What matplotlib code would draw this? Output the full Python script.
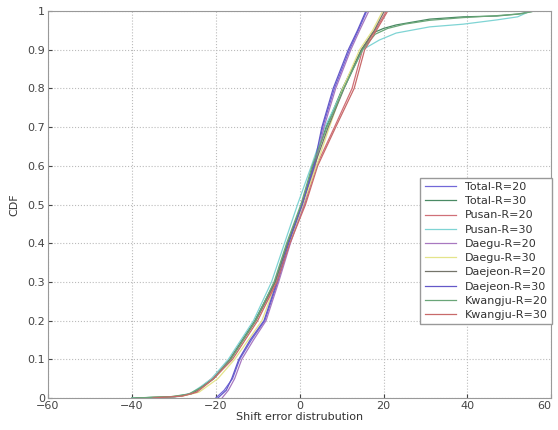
import matplotlib
matplotlib.use("Agg")
import matplotlib.pyplot as plt
import numpy as np

# CDF curves: (shift error, cdf)
total_r20_x = [-20, -18, -16, -14.3, -11.5, -8.3, -5.2, -2.4, 0.8, 3.6, 5.5, 8.3, 11.9, 14, 16]
total_r20_y = [0, 0.02, 0.05, 0.10, 0.15, 0.20, 0.30, 0.40, 0.50, 0.60, 0.70, 0.80, 0.90, 0.95, 1.0]
total_r30_x = [-40, -30, -26, -23, -20.7, -16.7, -10.7, -5.9, -2.9, 0.5, 3.2, 6.3, 10.2, 14.7, 17.4, 20, 23, 31, 39, 47, 52, 56]
total_r30_y = [0, 0.003, 0.01, 0.03, 0.05, 0.10, 0.20, 0.30, 0.40, 0.50, 0.60, 0.70, 0.80, 0.90, 0.943, 0.955, 0.964, 0.979, 0.985, 0.987, 0.992, 1.0]
pusan_r20_x = [-36, -28, -25, -21, -16.5, -10.4, -5.6, -2.5, 1.2, 4.0, 8.3, 12.5, 15, 18, 20.7]
pusan_r20_y = [0, 0.005, 0.015, 0.05, 0.10, 0.20, 0.30, 0.40, 0.50, 0.60, 0.70, 0.80, 0.90, 0.95, 1.0]
pusan_r30_x = [-40, -30, -26, -23.5, -21, -17, -11, -6.7, -3.6, -0.5, 2.8, 6.0, 10.5, 15, 19, 23, 31, 39, 47, 52, 55]
pusan_r30_y = [0, 0.003, 0.012, 0.03, 0.05, 0.10, 0.20, 0.30, 0.40, 0.50, 0.60, 0.70, 0.80, 0.90, 0.925, 0.943, 0.959, 0.966, 0.977, 0.985, 1.0]
daegu_r20_x = [-18.5, -17, -15.5, -13.8, -11, -8, -5, -2.2, 1.0, 3.7, 5.8, 8.6, 12.2, 14.3, 16.5]
daegu_r20_y = [0, 0.02, 0.05, 0.10, 0.15, 0.20, 0.30, 0.40, 0.50, 0.60, 0.70, 0.80, 0.90, 0.95, 1.0]
daegu_r30_x = [-38, -28, -24, -19.5, -15.5, -9, -5.5, -2.5, 0.8, 4.0, 7.1, 10.3, 14.3, 17.4, 19.8]
daegu_r30_y = [0, 0.005, 0.015, 0.05, 0.10, 0.20, 0.30, 0.40, 0.50, 0.60, 0.70, 0.80, 0.90, 0.95, 1.0]
daejeon_r20_x = [-39, -29, -25.5, -20.5, -16.5, -10.5, -5.8, -2.8, 0.6, 3.5, 6.8, 10.6, 14.8, 17.8, 20.2]
daejeon_r20_y = [0, 0.004, 0.012, 0.05, 0.10, 0.20, 0.30, 0.40, 0.50, 0.60, 0.70, 0.80, 0.90, 0.95, 1.0]
daejeon_r30_x = [-19.5, -17.5, -16.2, -14.5, -11.8, -8.5, -5.4, -2.6, 0.6, 3.4, 5.3, 8.0, 11.6, 13.8, 15.8]
daejeon_r30_y = [0, 0.02, 0.05, 0.10, 0.15, 0.20, 0.30, 0.40, 0.50, 0.60, 0.70, 0.80, 0.90, 0.95, 1.0]
kwangju_r20_x = [-40, -31, -26.5, -23, -20.5, -16.4, -10.5, -6.1, -3.1, 0.3, 3.0, 6.5, 10.5, 15, 18, 21, 25, 31, 39, 47, 53, 56]
kwangju_r20_y = [0, 0.003, 0.01, 0.03, 0.05, 0.10, 0.20, 0.30, 0.40, 0.50, 0.60, 0.70, 0.80, 0.90, 0.94, 0.955, 0.966, 0.976, 0.983, 0.988, 0.993, 1.0]
kwangju_r30_x = [-35, -28, -24.5, -20.5, -16, -10, -5.4, -2.3, 1.4, 4.3, 8.6, 13.0, 15.5, 18.3, 21]
kwangju_r30_y = [0, 0.005, 0.015, 0.05, 0.10, 0.20, 0.30, 0.40, 0.50, 0.60, 0.70, 0.80, 0.90, 0.95, 1.0]

labels = ["Total-R=20", "Total-R=30", "Pusan-R=20", "Pusan-R=30", "Daegu-R=20",
          "Daegu-R=30", "Daejeon-R=20", "Daejeon-R=30", "Kwangju-R=20", "Kwangju-R=30"]
colors = ["#7268d8", "#4a8a64", "#d07078", "#7fd4d4", "#a878c0",
          "#e4e48a", "#74746a", "#6458c8", "#6aa678", "#c86a6a"]
curves = [(total_r20_x, total_r20_y), (total_r30_x, total_r30_y),
          (pusan_r20_x, pusan_r20_y), (pusan_r30_x, pusan_r30_y),
          (daegu_r20_x, daegu_r20_y), (daegu_r30_x, daegu_r30_y),
          (daejeon_r20_x, daejeon_r20_y), (daejeon_r30_x, daejeon_r30_y),
          (kwangju_r20_x, kwangju_r20_y), (kwangju_r30_x, kwangju_r30_y)]

fig = plt.figure(figsize=(5.58, 4.30), dpi=100)
ax = fig.add_axes([0.086, 0.0744, 0.902, 0.90])

for (x, y), lab, c in zip(curves, labels, colors):
    ax.plot(x, y, color=c, linewidth=0.9, label=lab)

ax.set_xlim(-60, 60)
ax.set_ylim(0, 1)
ax.set_xticks(np.arange(-60, 61, 20))
ax.set_yticks(np.arange(0, 1.01, 0.1))
ax.set_yticklabels(["0", "0.1", "0.2", "0.3", "0.4", "0.5", "0.6", "0.7", "0.8", "0.9", "1"])
ax.tick_params(direction="in", labelsize=8, colors="#444444", length=3, pad=2)
ax.get_xticklabels()[-1].set_horizontalalignment("right")
ax.grid(True, linestyle=":", color="#bbbbbb", linewidth=0.8)
for s in ax.spines.values():
    s.set_color("#999999")

ax.set_xlabel("Shift error distrubution", fontsize=8, color="#333333", labelpad=1)
ax.set_ylabel("CDF", fontsize=8, color="#333333", labelpad=6)

leg = ax.legend(loc="upper left", bbox_to_anchor=(0.729, 0.584), fontsize=8,
                handlelength=2.8, labelspacing=0.38, fancybox=False,
                framealpha=1, edgecolor="#999999", borderpad=0.4)
for t in leg.get_texts():
    t.set_color("#333333")

fig.savefig("out.png", dpi=100)
